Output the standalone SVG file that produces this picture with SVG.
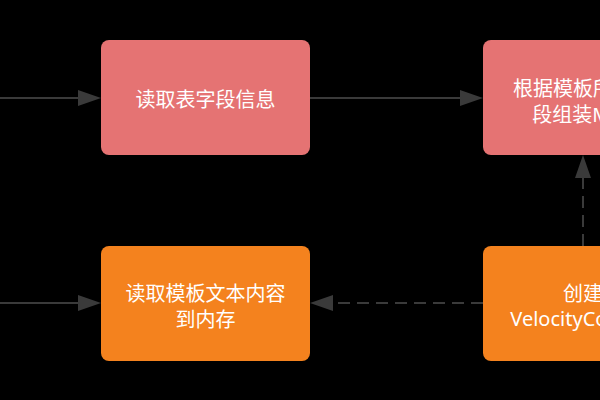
<svg xmlns="http://www.w3.org/2000/svg" width="600" height="400" viewBox="0 0 600 400">
  <style>
    .red { fill: #E57373; }
    .orange { fill: #F4821E; }
    .lbl { font-family: "Noto Sans", "Noto Sans CJK SC", sans-serif; font-size: 20px; fill: #FFFFFF; text-anchor: middle; }
    .conn { stroke: #3A3A3A; stroke-width: 2; fill: none; }
    .dash { stroke-dasharray: 12 7; }
  </style>
  <defs>
    <marker id="ah" markerUnits="userSpaceOnUse" markerWidth="23" markerHeight="16" refX="0" refY="8" orient="auto" overflow="visible">
      <path d="M0,0 L23,8 L0,16 Z" fill="#3A3A3A"/>
    </marker>
  </defs>
  <rect x="0" y="0" width="600" height="400" fill="#000000"/>

  <g id="connectors">
    <line class="conn" x1="0" y1="98" x2="78" y2="98" marker-end="url(#ah)"/>
    <line class="conn" x1="310" y1="98" x2="460" y2="98" marker-end="url(#ah)"/>
    <line class="conn" x1="0" y1="303" x2="78" y2="303" marker-end="url(#ah)"/>
    <line class="conn dash" x1="483" y1="303" x2="333" y2="303" marker-end="url(#ah)"/>
    <line class="conn dash" x1="583" y1="246" x2="583" y2="178" marker-end="url(#ah)"/>
  </g>

  <g id="node-read-fields">
    <rect class="red" x="101" y="40" width="209" height="115" rx="8"/>
    <text class="lbl" x="205.5" y="106.5">读取表字段信息</text>
  </g>

  <g id="node-build-map">
    <rect class="red" x="483" y="40" width="200" height="115" rx="8"/>
    <text class="lbl" x="583" y="95.5">根据模板所需字</text>
    <text class="lbl" x="583" y="121.5">段组装Map</text>
  </g>

  <g id="node-read-template">
    <rect class="orange" x="101" y="246" width="209" height="115" rx="8"/>
    <text class="lbl" x="205.5" y="300.5">读取模板文本内容</text>
    <text class="lbl" x="205.5" y="326.5">到内存</text>
  </g>

  <g id="node-create-context">
    <rect class="orange" x="483" y="246" width="200" height="115" rx="8"/>
    <text class="lbl" x="583" y="300.5">创建</text>
    <text class="lbl" x="583" y="325.5">VelocityContext</text>
  </g>
</svg>
